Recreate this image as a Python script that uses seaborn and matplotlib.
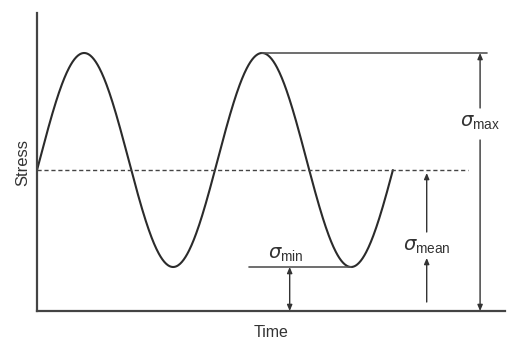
import numpy as np
import pandas as pd
import matplotlib
matplotlib.use("Agg")
import matplotlib.pyplot as plt
import seaborn as sns

# ---- data (arbitrary units) ----
period = 1.0
phase = 0.015
sigma_max = 258.0
sigma_min = 44.0
sigma_mean_line = 141.0
n_cycles_end = 2.0
time_end = 2.63
stress_top = 298.0

amp = (sigma_max - sigma_min) / 2
mid = (sigma_max + sigma_min) / 2
t = np.linspace(0, n_cycles_end, 600)
stress = mid + amp * np.sin(2 * np.pi * (t - phase) / period)
df = pd.DataFrame({"Time": t, "Stress": stress})

sns.set_style("white")
plt.rcParams['font.family'] = ['Liberation Sans', 'DejaVu Sans']
plt.rcParams['mathtext.fontset'] = 'custom'
plt.rcParams['mathtext.rm'] = 'Liberation Sans'
plt.rcParams['mathtext.it'] = 'DejaVu Sans:italic'

fig = plt.figure(figsize=(5.07, 3.43), dpi=100)
ax = fig.add_axes([37/507, 32/343, (505-37)/507, (311-13)/343])

dark = "#2b2b2b"
sns.lineplot(data=df, x="Time", y="Stress", ax=ax, color=dark, lw=1.5)

ax.set_xlim(0, time_end)
ax.set_ylim(0, stress_top)
ax.set_xticks([])
ax.set_yticks([])
for s in ["top", "right"]:
    ax.spines[s].set_visible(False)
for s in ["left", "bottom"]:
    ax.spines[s].set_color("#444444")
    ax.spines[s].set_linewidth(1.6)

ax.set_xlabel("Time", fontsize=11.5, color="#333333", labelpad=10)
ax.set_ylabel("Stress", fontsize=12, color="#333333", labelpad=5)

# mean dashed line
ax.plot([0, 2.42], [sigma_mean_line]*2, ls=(0, (3, 2)), color="#444444", lw=1.0)

# max / min reference lines
peak_t = phase + 1.25
trough_t = phase + 1.75
ax.plot([peak_t, 2.53], [sigma_max]*2, color="#555555", lw=1.2)
ax.plot([1.19, trough_t], [sigma_min]*2, color="#555555", lw=1.2)

ap = dict(arrowstyle="-|>,head_length=0.35,head_width=0.15", color="#333333", lw=1.0,
          shrinkA=0, shrinkB=0)
ap2 = dict(arrowstyle="<|-|>,head_length=0.35,head_width=0.15", color="#333333", lw=1.0,
           shrinkA=0, shrinkB=0)

# sigma max arrow
x_max = 2.49
ax.annotate("", xy=(x_max, sigma_max), xytext=(x_max, 203), arrowprops=ap)
ax.annotate("", xy=(x_max, 0), xytext=(x_max, 171), arrowprops=ap)
ax.text(x_max, 188, r"$\sigma_{\rm max}$", fontsize=14, ha="center", va="center", color="#333333")

# sigma mean arrow
x_mean = 2.19
ax.annotate("", xy=(x_mean, sigma_mean_line - 3), xytext=(x_mean, 79), arrowprops=ap)
ax.annotate("", xy=(x_mean, 53), xytext=(x_mean, 9), arrowprops=ap)
ax.text(x_mean, 64, r"$\sigma_{\rm mean}$", fontsize=14, ha="center", va="center", color="#333333")

# sigma min arrow
x_min = 1.42
ax.annotate("", xy=(x_min, sigma_min), xytext=(x_min, 0), arrowprops=ap2)
ax.text(1.40, 56, r"$\sigma_{\rm min}$", fontsize=14, ha="center", va="center", color="#333333")

fig.savefig("out.png", dpi=100)
